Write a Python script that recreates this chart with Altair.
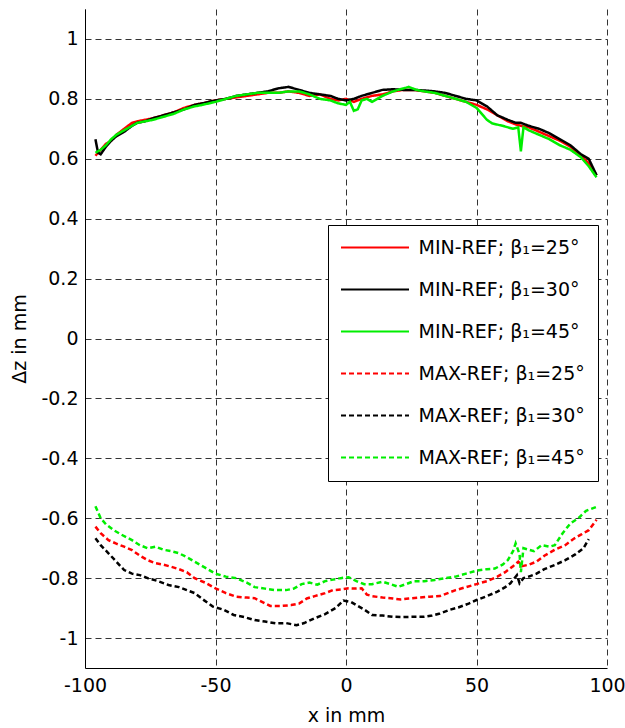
import altair as alt
import pandas as pd

# ---------------- data ----------------
series_names = [
    "MIN-REF; β₁=25°", "MIN-REF; β₁=30°", "MIN-REF; β₁=45°",
    "MAX-REF; β₁=25°", "MAX-REF; β₁=30°", "MAX-REF; β₁=45°",
]
series_colors = ["#ff0000", "#000000", "#00ee00", "#ff0000", "#000000", "#00ee00"]

x_min25 = [-96, -94, -92, -90, -88, -85, -82, -80, -77, -74, -70, -66, -62, -58, -55, -50, -46, -42,
           -38, -34, -30, -26, -22, -18, -14, -10, -6, -3, 0, 3, 6, 10, 14, 18, 22, 26, 30, 34, 38,
           42, 46, 50, 54, 58, 62, 65, 67, 70, 74, 78, 82, 86, 90, 93, 96]
y_min25 = [0.61, 0.63, 0.65, 0.66, 0.68, 0.70, 0.72, 0.725, 0.73, 0.735, 0.745, 0.755, 0.77, 0.78,
           0.785, 0.795, 0.80, 0.805, 0.81, 0.815, 0.82, 0.82, 0.825, 0.82, 0.81, 0.815, 0.80, 0.795,
           0.80, 0.79, 0.80, 0.81, 0.815, 0.825, 0.83, 0.83, 0.825, 0.82, 0.81, 0.80, 0.79, 0.78,
           0.765, 0.745, 0.725, 0.715, 0.71, 0.705, 0.69, 0.675, 0.66, 0.64, 0.61, 0.585, 0.545]

x_min30 = [-96, -95, -94, -92, -90, -88, -85, -82, -80, -77, -74, -70, -66, -62, -58, -55, -50, -46,
           -42, -38, -34, -30, -26, -22, -18, -14, -10, -6, -3, 0, 3, 6, 10, 14, 18, 22, 26, 30, 34,
           38, 42, 46, 50, 54, 58, 62, 65, 67, 70, 74, 78, 82, 86, 90, 93, 96]
y_min30 = [0.665, 0.62, 0.615, 0.64, 0.66, 0.675, 0.69, 0.71, 0.72, 0.725, 0.735, 0.745, 0.755,
           0.765, 0.78, 0.785, 0.795, 0.80, 0.81, 0.815, 0.82, 0.825, 0.835, 0.84, 0.83, 0.82, 0.815,
           0.81, 0.80, 0.795, 0.80, 0.81, 0.82, 0.83, 0.832, 0.83, 0.83, 0.828, 0.825, 0.82, 0.81,
           0.80, 0.795, 0.775, 0.745, 0.73, 0.72, 0.72, 0.71, 0.70, 0.685, 0.665, 0.645, 0.615,
           0.60, 0.545]

x_min45 = [-96, -94, -92, -90, -88, -85, -82, -80, -77, -74, -70, -66, -62, -58, -55, -50, -46, -42,
           -38, -34, -30, -26, -22, -18, -14, -10, -6, -3, 0, 1.5, 3, 4.5, 6, 8, 10, 14, 18, 22, 24,
           27, 30, 34, 38, 42, 46, 50, 54, 56, 60, 64, 66, 67, 68, 70, 74, 78, 82, 86, 90, 93, 96]
y_min45 = [0.62, 0.63, 0.645, 0.665, 0.68, 0.695, 0.71, 0.72, 0.725, 0.73, 0.74, 0.75, 0.765,
           0.775, 0.78, 0.79, 0.80, 0.81, 0.815, 0.82, 0.82, 0.82, 0.825, 0.825, 0.815, 0.80, 0.795,
           0.785, 0.78, 0.79, 0.76, 0.765, 0.795, 0.80, 0.79, 0.81, 0.825, 0.835, 0.84, 0.83, 0.825,
           0.82, 0.81, 0.80, 0.79, 0.77, 0.73, 0.718, 0.71, 0.70, 0.705, 0.625, 0.705, 0.695, 0.68,
           0.665, 0.645, 0.63, 0.605, 0.575, 0.538]

x_max25 = [-96, -94, -91, -88, -85, -82, -79, -76, -73, -70, -67, -64, -61, -58, -54, -50, -46, -42,
           -38, -35, -32, -29, -25, -21, -18, -15, -12, -8, -5, -2, 1, 4, 6, 8, 10, 14, 18, 21, 24,
           28, 32, 36, 39, 42, 46, 50, 54, 58, 61, 64, 66, 67.5, 70, 73, 76, 80, 84, 87, 90, 93, 96]
y_max25 = [-0.628, -0.65, -0.673, -0.685, -0.695, -0.706, -0.725, -0.74, -0.75, -0.755, -0.762,
           -0.77, -0.78, -0.80, -0.815, -0.834, -0.85, -0.862, -0.865, -0.867, -0.88, -0.893, -0.893,
           -0.89, -0.885, -0.868, -0.86, -0.85, -0.84, -0.838, -0.834, -0.835, -0.834, -0.855, -0.86,
           -0.865, -0.868, -0.871, -0.868, -0.865, -0.862, -0.86, -0.85, -0.84, -0.83, -0.82, -0.81,
           -0.795, -0.78, -0.76, -0.745, -0.76, -0.755, -0.745, -0.725, -0.705, -0.69, -0.67, -0.655,
           -0.64, -0.605]

x_max30 = [-96, -94, -91, -88, -85, -82, -79, -76, -72, -68, -64, -61, -58, -55, -51, -47, -43, -39,
           -35, -31, -27, -23, -19, -16, -12, -8, -4, -1, 2, 4, 7, 10, 14, 18, 22, 26, 30, 33, 36,
           40, 43, 47, 50, 54, 58, 61, 63, 65.5, 66.5, 68, 70, 73, 76, 80, 84, 88, 91, 93]
y_max30 = [-0.667, -0.69, -0.717, -0.745, -0.773, -0.785, -0.79, -0.80, -0.81, -0.823, -0.83, -0.84,
           -0.85, -0.87, -0.895, -0.905, -0.923, -0.93, -0.94, -0.945, -0.951, -0.95, -0.957, -0.95,
           -0.934, -0.92, -0.90, -0.875, -0.88, -0.89, -0.905, -0.923, -0.925, -0.929, -0.93, -0.929,
           -0.929, -0.925, -0.918, -0.905, -0.898, -0.885, -0.873, -0.86, -0.845, -0.83, -0.817,
           -0.79, -0.817, -0.80, -0.795, -0.785, -0.77, -0.756, -0.74, -0.72, -0.70, -0.67]

x_max45 = [-96, -94, -92, -89, -86, -82, -79, -76, -73, -70, -67, -64, -61, -58, -54, -50, -46, -42,
           -38, -35, -31, -27, -23, -20, -17, -14, -11, -8, -5, -2, 1, 4, 7, 10, 14, 17, 20, 23, 26,
           30, 34, 38, 42, 46, 50, 54, 57, 60, 62, 64, 65, 66.5, 67, 68, 70, 72, 75, 78, 80, 83, 86,
           89, 92, 96]
y_max45 = [-0.56, -0.60, -0.62, -0.64, -0.655, -0.673, -0.69, -0.70, -0.695, -0.705, -0.71, -0.717,
           -0.73, -0.745, -0.765, -0.785, -0.795, -0.80, -0.815, -0.83, -0.835, -0.84, -0.84, -0.835,
           -0.82, -0.815, -0.822, -0.81, -0.805, -0.80, -0.797, -0.81, -0.82, -0.82, -0.812, -0.82,
           -0.829, -0.82, -0.81, -0.81, -0.806, -0.80, -0.795, -0.785, -0.775, -0.77, -0.768, -0.755,
           -0.74, -0.71, -0.684, -0.72, -0.78, -0.70, -0.705, -0.71, -0.69, -0.695, -0.69, -0.65,
           -0.617, -0.60, -0.575, -0.562]

x_ticks = [-100, -50, 0, 50, 100]
y_ticks = [-1, -0.8, -0.6, -0.4, -0.2, 0, 0.2, 0.4, 0.6, 0.8, 1]

all_x = [x_min25, x_min30, x_min45, x_max25, x_max30, x_max45]
all_y = [y_min25, y_min30, y_min45, y_max25, y_max30, y_max45]

FONT = "DejaVu Sans"
solid = [1, 0]
dash = [5, 3]

color_scale = alt.Scale(domain=series_names, range=series_colors)
dash_scale = alt.Scale(domain=series_names, range=[solid, solid, solid, dash, dash, dash])

x_enc = alt.X("x:Q", scale=alt.Scale(domain=[-100, 100], nice=False),
              axis=alt.Axis(values=x_ticks, title="x in mm", labelExpr="'' + datum.value",
                            labelFlush=False))
y_enc = alt.Y("y:Q", scale=alt.Scale(domain=[-1.1, 1.1], nice=False),
              axis=alt.Axis(values=y_ticks, title="Δz in mm", labelExpr="'' + datum.value",
                            labelFlush=False))

# long horizontal stroke symbol: custom path scaled by sqrt(size)/2 -> 8 * 8.5 = 68 px
legend = alt.Legend(
    orient="none", legendX=243, legendY=216, title=None,
    symbolType="M-4,0H4", symbolSize=289, symbolStrokeWidth=2, symbolOffset=24.5,
    labelFont=FONT, labelFontSize=19, labelColor="black", labelOffset=34, labelLimit=400,
    rowPadding=22, padding=13, fillColor="white", strokeColor="black",
)

layers = []
for name, xs, ys in zip(series_names, all_x, all_y):
    df = pd.DataFrame({"x": xs, "y": ys, "series": name})
    layers.append(
        alt.Chart(df).mark_line(strokeWidth=2.5).encode(
            x=x_enc,
            y=y_enc,
            color=alt.Color("series:N", scale=color_scale, legend=legend),
            strokeDash=alt.StrokeDash("series:N", scale=dash_scale, legend=legend),
        )
    )

chart = alt.layer(*layers).properties(
    width=522, height=659,
    autosize=alt.AutoSizeParams(type="none"),
    padding={"left": 85, "top": 9, "right": 18, "bottom": 60},
).configure_view(stroke=None).configure_axis(
    labelFont=FONT, titleFont=FONT, labelFontSize=19, titleFontSize=19,
    labelColor="black", titleColor="black", titleFontWeight="normal",
    domainColor="black", domainWidth=1, ticks=False,
    grid=True, gridColor="#333333", gridDash=[6, 4], gridWidth=1, gridOpacity=1,
).configure_axisX(labelPadding=8, titlePadding=11).configure_axisY(labelPadding=7, titlePadding=11)

chart.save("out.html", embed_options={"renderer": "svg", "actions": False})
